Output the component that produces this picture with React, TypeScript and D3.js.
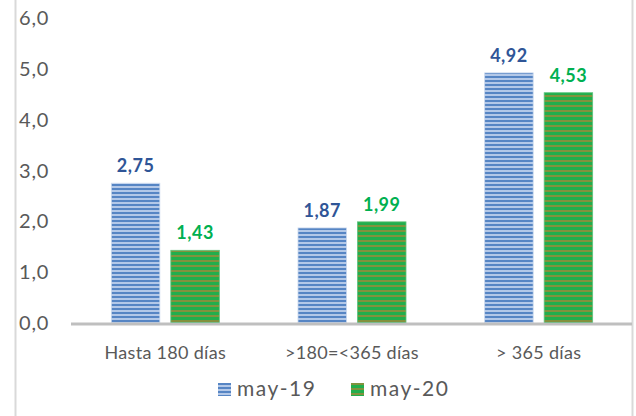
import * as d3 from "d3";

const categories = ["Hasta 180 días", ">180=<365 días", "> 365 días"];
const series = ["may-19", "may-20"];
const may19 = [2.75, 1.87, 4.92];
const may20 = [1.43, 1.99, 4.53];
const yTicks = [0, 1, 2, 3, 4, 5, 6];

const W = 636;
const H = 416;
const M = { left: 72, right: 4, top: 18, bottom: 93 };

export default function App() {
  const x0 = d3.scaleBand().domain(categories).range([M.left, W - M.right]).paddingInner(0).paddingOuter(0);
  const x1 = d3.scaleBand().domain(series).range([0, 108]).paddingInner(0.185);
  const y = d3.scaleLinear().domain([0, 6]).range([H - M.bottom, M.top]);

  const fmt = (v: number) => v.toFixed(2).replace(".", ",");
  const values = [may19, may20];
  const fills = ["url(#stripeBlue)", "url(#stripeGreen)"];
  const labelColors = ["#2f5597", "#00b050"];
  const font = "Lato, 'Open Sans', sans-serif";

  return (
    <svg width={W} height={H} style={{ position: "absolute", left: 0, top: 0, background: "#fff" }}>
      <defs>
        <pattern id="stripeBlue" width={4} height={4} patternUnits="userSpaceOnUse">
          <rect width={4} height={4} fill="#b3c8e8" />
          <rect width={4} height={2} fill="#5685c4" />
        </pattern>
        <pattern id="stripeGreen" width={5} height={5} patternUnits="userSpaceOnUse">
          <rect width={5} height={5} fill="#22ae4c" />
          <rect width={5} height={2} fill="#82923e" />
        </pattern>
      </defs>
      {/* frame */}
      <line x1={15.5} x2={15.5} y1={0} y2={H} stroke="#d9d9d9" strokeWidth={2} />
      <line x1={632.5} x2={632.5} y1={0} y2={H} stroke="#d9d9d9" strokeWidth={2} />

      {yTicks.map((t) => (
        <text key={t} x={19} y={y(t) + 7} fontSize={20} fill="#595959" fontFamily={font} letterSpacing={0.8}>
          {t.toFixed(1).replace(".", ",")}
        </text>
      ))}

      {categories.map((c, ci) => (
        <g key={c} transform={`translate(${(x0(c) ?? 0) + x0.bandwidth() / 2 - 54},0)`}>
          {series.map((s, si) => {
            const v = values[si][ci];
            const bx = x1(s) ?? 0;
            return (
              <g key={s}>
                <rect
                  x={bx}
                  y={y(v)}
                  width={x1.bandwidth()}
                  height={y(0) - y(v)}
                  fill={fills[si]}
                  stroke={si === 0 ? "#c9d8ee" : "#5cc47c"}
                  strokeWidth={0.8}
                />
                <text
                  x={bx + x1.bandwidth() / 2}
                  y={y(v) - 11}
                  textAnchor="middle"
                  fontSize={18}
                  fontWeight={700}
                  fill={labelColors[si]}
                  fontFamily={font}
                  letterSpacing={0.5}
                >
                  {fmt(v)}
                </text>
              </g>
            );
          })}
          <text x={54} y={359} textAnchor="middle" fontSize={18} fill="#595959" fontFamily={font} letterSpacing={0.3}>
            {c}
          </text>
        </g>
      ))}

      <line x1={71} x2={632} y1={y(0) + 1} y2={y(0) + 1} stroke="#bfbfbf" strokeWidth={3} />

      {/* legend */}
      {series.map((s, i) => (
        <g key={s} transform={`translate(${218 + i * 133},383)`}>
          <rect width={13} height={13} fill={fills[i]} />
          <text x={19} y={13} fontSize={21} fill="#595959" fontFamily={font} letterSpacing={1.5}>
            {s}
          </text>
        </g>
      ))}
    </svg>
  );
}
